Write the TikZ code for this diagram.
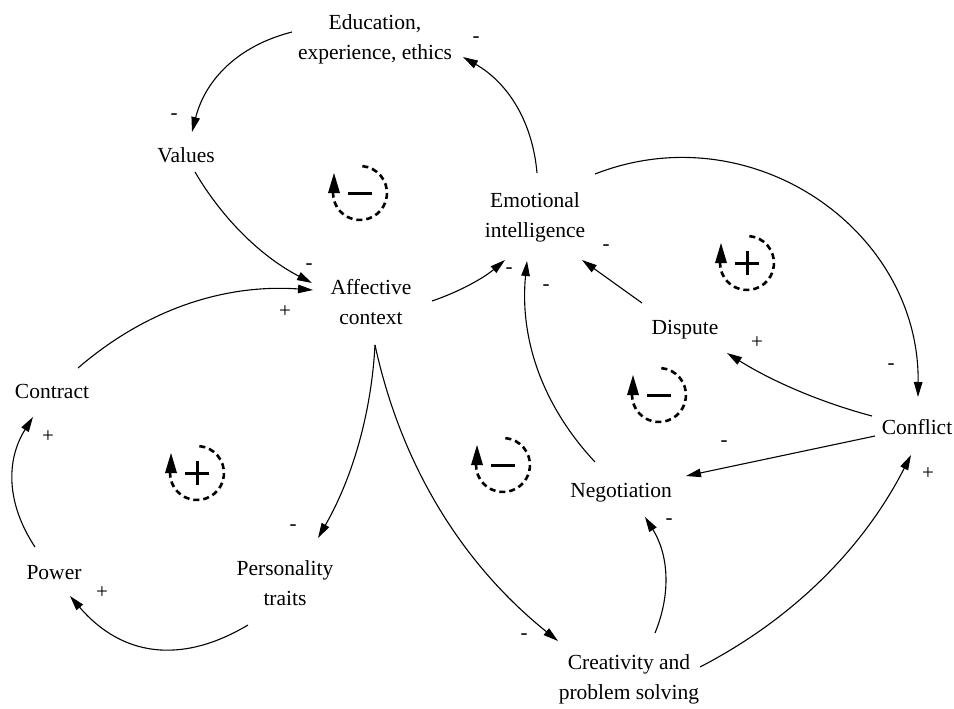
\documentclass[tikz,border=0pt]{standalone}
\usepackage{fontspec}
\setmainfont{Liberation Serif}
\usetikzlibrary{arrows.meta}
\begin{document}
\begin{tikzpicture}[x=1pt,y=-1pt,
  var/.style={font=\fontsize{21.5}{30}\selectfont, align=center, inner sep=0pt},
  var1/.style={var, text height=15pt, text depth=5pt},
  pol/.style={font=\fontsize{21}{22}\selectfont, inner sep=0pt},
  conn/.style={draw, line width=1.1pt, -{Triangle[length=15pt,width=8.5pt]}},
  loopbase/.pic={
    \draw[line width=2.6pt, dash pattern=on 6pt off 4pt] (-85:27) arc[start angle=-85, end angle=180, radius=27];
    \fill (-32,0) -- (-26,-20) -- (-20,0) -- cycle;
  },
  loopminus/.pic={
    \pic {loopbase};
    \draw[line width=3pt] (-12,0) -- (12,0);
  },
  loopplus/.pic={
    \pic {loopbase};
    \draw[line width=3pt] (-12,0) -- (12,0) (0,-12) -- (0,12);
  }
]
\useasboundingbox (0,0) rectangle (954,709);

% variables
\node[var]  (edu)      at (375,39)  {Education,\\experience, ethics};
\node[var1] (values)   at (186,157) {Values};
\node[var]  (ei)       at (535,217) {Emotional\\intelligence};
\node[var]  (aff)      at (371,302) {Affective\\context};
\node[var1] (dispute)  at (685,329) {Dispute};
\node[var1] (contract) at (52,393)  {Contract};
\node[var1] (conflict) at (917,429) {Conflict};
\node[var1] (neg)      at (621,492) {Negotiation};
\node[var]  (pers)     at (285,583) {Personality\\traits};
\node[var1] (power)    at (54,574)  {Power};
\node[var]  (crea)     at (629,679) {Creativity and\\problem solving};

% connectors
\draw[conn] ([shift={(2,-44)}]ei.center) .. controls (532.5,121.4) and (507.9,82.8) .. ([shift={(88,18)}]edu.center);
\draw[conn] ([shift={(-83,-7)}]edu.center) .. controls (238.9,45.5) and (205.5,78.9) .. ([shift={(6,-25)}]values.center);
\draw[conn] ([shift={(9,15)}]values.center) .. controls (223.3,220.2) and (262.3,257.2) .. ([shift={(-59,-19)}]aff.center);
\draw[conn] ([shift={(26,-25)}]contract.center) .. controls (145.6,309.7) and (224,283.7) .. ([shift={(-58,-12)}]aff.center);
\draw[conn] ([shift={(61,-1)}]aff.center) .. controls (458.9,291.9) and (483.3,278.3) .. ([shift={(-30,43)}]ei.center);
\draw[conn] ([shift={(60,-43)}]ei.center) .. controls (751.2,112.9) and (919.8,229.2) .. ([shift={(1,-32)}]conflict.center);
\draw[conn] ([shift={(-43,-26)}]dispute.center) -- ([shift={(47,43)}]ei.center);
\draw[conn] ([shift={(-45,-13)}]conflict.center) .. controls (820.5,402.3) and (772.1,381.3) .. ([shift={(42,24)}]dispute.center);
\draw[conn] ([shift={(-26,-30)}]neg.center) .. controls (542,405.2) and (519.4,338.2) .. ([shift={(-8,44)}]ei.center);
\draw[conn] ([shift={(-42,7)}]conflict.center) -- ([shift={(65,-16)}]neg.center);
\draw[conn] ([shift={(26,-46)}]crea.center) .. controls (671.6,592.6) and (668.2,554) .. ([shift={(24,25)}]neg.center);
\draw[conn] ([shift={(71,-12)}]crea.center) .. controls (793,618.9) and (863.4,548.3) .. ([shift={(-6,26)}]conflict.center);
\draw[conn] ([shift={(4,43)}]aff.center) .. controls (401.1,465.3) and (462.1,563.9) .. ([shift={(-71,-38)}]crea.center);
\draw[conn] ([shift={(4,43)}]aff.center) .. controls (371.3,413.8) and (352.3,478.2) .. ([shift={(33,-45)}]pers.center);
\draw[conn] ([shift={(-37,42)}]pers.center) .. controls (180.5,665.3) and (121.1,655.7) .. ([shift={(16,22)}]power.center);
\draw[conn] ([shift={(-19,-27)}]power.center) .. controls (6.3,503.7) and (5.7,460.3) .. ([shift={(-19,24)}]contract.center);

% polarities
\node[pol] (p1)  at (174,117) {-};
\node[pol] (p2)  at (476,40)  {-};
\node[pol] (p3)  at (309,267) {-};
\node[pol] (p4)  at (285,312) {+};
\node[pol] (p5)  at (509,271) {-};
\node[pol] (p6)  at (546,288) {-};
\node[pol] (p7)  at (606,248) {-};
\node[pol] (p8)  at (891,367) {-};
\node[pol] (p9)  at (757,343) {+};
\node[pol] (p10) at (724,444) {-};
\node[pol] (p11) at (928,474) {+};
\node[pol] (p12) at (669,522) {-};
\node[pol] (p13) at (524,637) {-};
\node[pol] (p14) at (293,528) {-};
\node[pol] (p15) at (102,593) {+};
\node[pol] (p16) at (48,437)  {+};

% loop markers
\pic (loopA) at (360,193) {loopminus};
\pic (loopB) at (747,263) {loopplus};
\pic (loopC) at (659,395) {loopminus};
\pic (loopD) at (503,465) {loopminus};
\pic (loopE) at (197,473) {loopplus};
\end{tikzpicture}
\end{document}
